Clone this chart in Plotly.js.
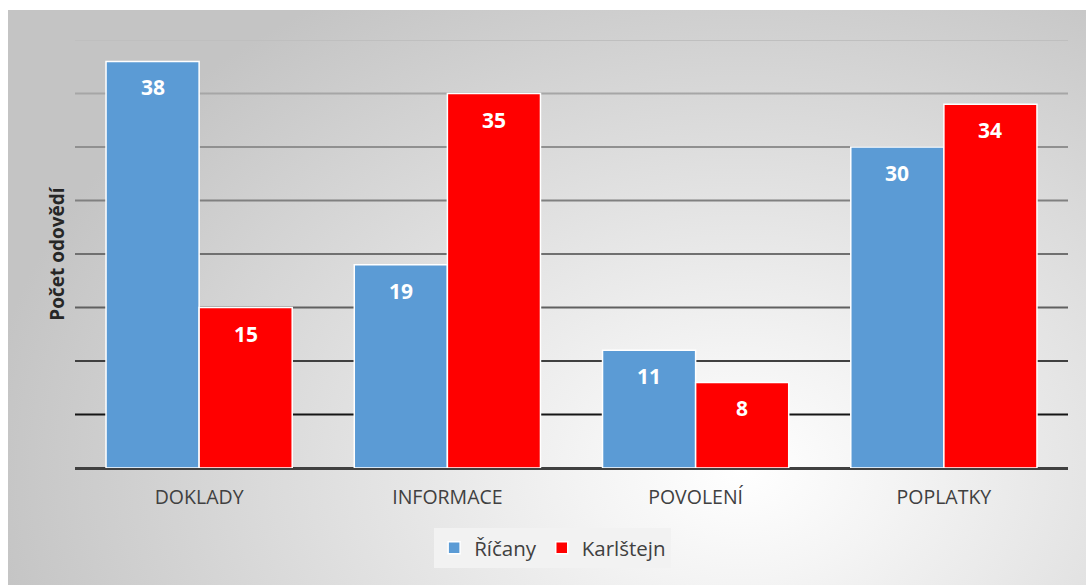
<!DOCTYPE html>
<html><head><meta charset="utf-8">
<script src="https://cdn.plot.ly/plotly-3.0.1.min.js"></script>
<style>
html,body{margin:0;padding:0;background:#fff;}
#wrap{position:relative;width:1086px;height:585px;}
#bg{position:absolute;left:8px;top:10px;width:1078px;height:575px;
 background:radial-gradient(ellipse 760px 560px at 68% 80%, #ffffff 0%, #f4f4f4 20%, #c4c4c4 100%);}
#chart{position:absolute;left:0;top:0;width:1086px;height:585px;}
</style></head>
<body><div id="wrap"><div id="bg"></div><div id="chart"></div></div>
<script>
const categories = ['DOKLADY', 'INFORMACE', 'POVOLENÍ', 'POPLATKY'];
const ricany = [38, 19, 11, 30];
const karlstejn = [15, 35, 8, 34];
const seriesNames = ['Říčany', 'Karlštejn'];
const gridValues = [5, 10, 15, 20, 25, 30, 35, 40];
const gridColors = ['#151515', '#404040', '#606060', '#707070', '#808080', '#909090', '#a6a6a6', '#bfbfbf'];

const FONT = '"Open Sans", sans-serif';
const BARGAP = 0.25;
const series = [ricany, karlstejn];
const colors = ['#5b9bd5', '#ff0000'];
const traces = series.map((vals, s) => ({
  type: 'bar', x: categories, y: vals, name: seriesNames[s],
  marker: {color: colors[s], line: {color: '#ffffff', width: 1.5}},
  hoverinfo: 'skip'
}));
const annotations = [];
series.forEach((vals, s) => {
  vals.forEach((v, i) => {
    annotations.push({
      xref: 'x', yref: 'y', x: i + (s === 0 ? -1 : 1) * (1 - BARGAP) / 4, y: v,
      text: String(v), showarrow: false, yanchor: 'middle', yshift: -26,
      font: {family: FONT, size: 21, color: '#ffffff', weight: 'bold'}
    });
  });
});
const shapes = gridValues.map((v, i) => ({
  type: 'line', xref: 'paper', yref: 'y', x0: 0, x1: 1, y0: v, y1: v,
  line: {color: gridColors[i], width: 2}, layer: 'below'
}));
const layout = {
  width: 1086, height: 585,
  margin: {l: 75, r: 18, t: 40, b: 117},
  paper_bgcolor: 'rgba(0,0,0,0)', plot_bgcolor: 'rgba(0,0,0,0)',
  barmode: 'group', bargap: BARGAP, bargroupgap: 0,
  font: {family: FONT, color: '#404040'},
  xaxis: {tickfont: {size: 19.5, color: '#404040'}, ticks: '', showline: false, showgrid: false, ticklabelstandoff: 15},
  yaxis: {range: [0, 40], showgrid: false, showticklabels: false, zeroline: true, zerolinecolor: '#404040', zerolinewidth: 3,
    title: {text: 'Počet odovědí', font: {size: 19, color: '#262626', weight: 'bold', family: FONT}, standoff: 4}},
  shapes: shapes,
  annotations: annotations,
  showlegend: true,
  legend: {orientation: 'h', x: 0.481, xanchor: 'center', y: -0.14, yanchor: 'top',
    bgcolor: '#f2f2f2', font: {size: 20.5, color: '#404040'}, itemwidth: 30},
};
Plotly.newPlot('chart', traces, layout, {displayModeBar: false, staticPlot: true});
</script></body></html>
